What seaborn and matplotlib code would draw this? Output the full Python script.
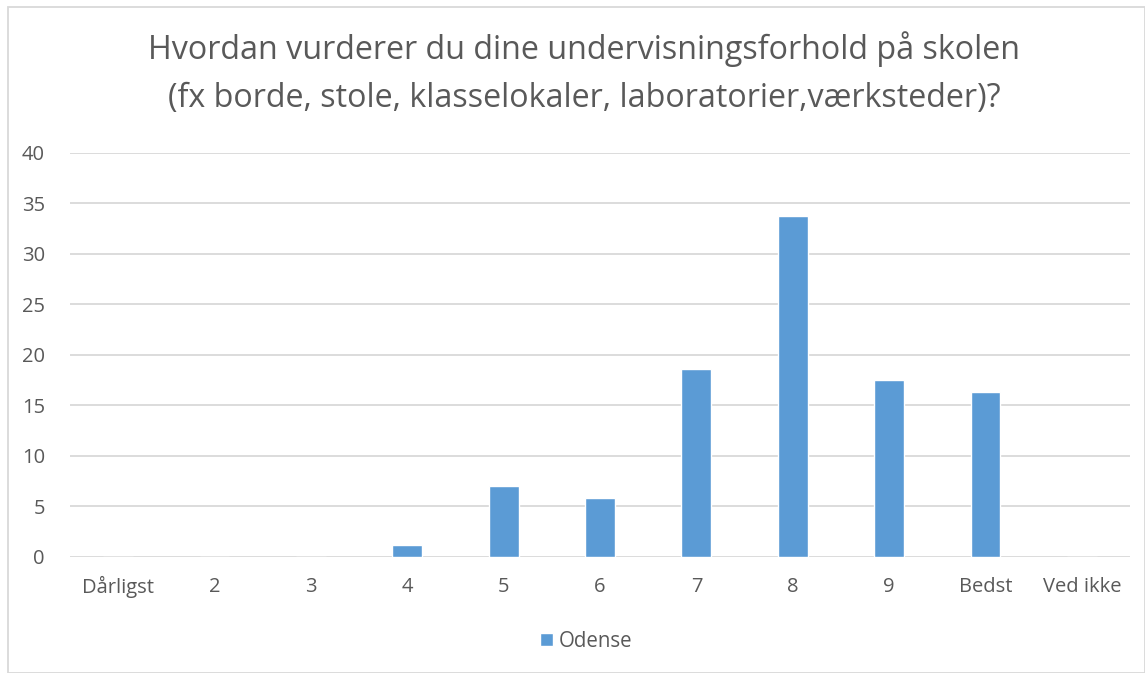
import matplotlib
matplotlib.use('Agg')
import matplotlib.pyplot as plt
import seaborn as sns
import pandas as pd
from matplotlib.patches import Rectangle, Patch

categories = ['Dårligst', '2', '3', '4', '5', '6', '7', '8', '9', 'Bedst', 'Ved ikke']
odense = [0, 0, 0, 1.13, 7.0, 5.8, 18.6, 33.75, 17.45, 16.3, 0]
y_ticks = [0, 5, 10, 15, 20, 25, 30, 35, 40]

title = ('Hvordan vurderer du dine undervisningsforhold på skolen\n'
         '(fx borde, stole, klasselokaler, laboratorier,værksteder)?')

BLUE = '#5B9BD5'
GRID = '#D9D9D9'
TEXT = '#595959'

sns.set_theme(style='white')
plt.rcParams['font.family'] = ['Open Sans', 'DejaVu Sans']

df = pd.DataFrame({'kategori': categories, 'Odense': odense})

fig = plt.figure(figsize=(11.45, 6.73), dpi=100)
ax = fig.add_axes([0.0611, 0.1728, 0.9259, 0.6003])

sns.barplot(data=df, x='kategori', y='Odense', color=BLUE, width=0.31,
            saturation=1, ax=ax, zorder=3)

ax.set_ylim(0, 40)
ax.set_xlim(-0.5, len(categories) - 0.5)
ax.set_yticks(y_ticks)
ax.yaxis.grid(True, color=GRID, linewidth=1.3, zorder=0)
ax.set_axisbelow(True)
for s in ax.spines.values():
    s.set_visible(False)
ax.set_xlabel('')
ax.set_ylabel('')
ax.tick_params(axis='both', length=0, labelsize=14.5, labelcolor=TEXT)
ax.tick_params(axis='x', pad=22)
ax.tick_params(axis='y', pad=18)
for lbl in ax.get_xticklabels():
    lbl.set_verticalalignment('center')
for lbl in ax.get_yticklabels():
    lbl.set_horizontalalignment('right')

fig.text(0.51, 0.891, title, ha='center', va='center', fontsize=23.2,
         color=TEXT, linespacing=1.6)

leg = fig.legend(handles=[Patch(facecolor=BLUE, label='Odense')],
                 loc='center', bbox_to_anchor=(0.512, 0.047), frameon=False,
                 fontsize=14.8, handlelength=0.6, handleheight=0.6,
                 handletextpad=0.3)
for t in leg.get_texts():
    t.set_color(TEXT)

fig.patches.append(Rectangle((0.007, 0.0), 0.993, 0.99, transform=fig.transFigure,
                             fill=False, edgecolor=GRID, linewidth=1.3))

fig.savefig('out.png', dpi=100)
